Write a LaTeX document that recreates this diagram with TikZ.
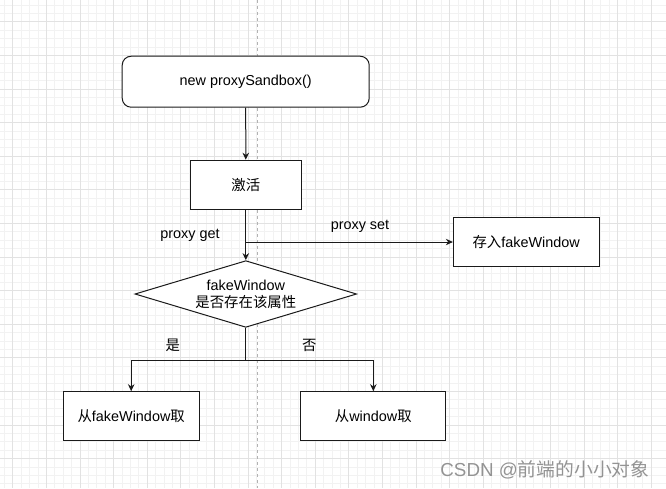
\documentclass[tikz,border=0pt]{standalone}
\usepackage{fontspec}
\setmainfont{Liberation Sans}
\newfontfamily\cjk{Noto Sans CJK SC}
\usepackage{tikz}
\usetikzlibrary{arrows.meta,positioning,calc,shapes.geometric}
\definecolor{gridminor}{HTML}{F2F2F2}
\definecolor{gridmajor}{HTML}{E2E2E2}
\definecolor{edgegray}{HTML}{1A1A1A}
\tikzset{
  block/.style    = {draw=edgegray, line width=1pt, rectangle, align=center,
                     minimum height=49pt, fill=white},
  rblock/.style   = {block, rounded corners=9pt},
  decision/.style = {draw=edgegray, line width=1pt, diamond, align=center, fill=white,
                     shape aspect=3.3, inner sep=0pt,
                     minimum width=221.7pt, minimum height=66.7pt},
  sig/.style      = {-{Stealth[length=7pt,width=6.5pt]}, line width=1pt, draw=edgegray},
  wire/.style     = {line width=1pt, draw=edgegray},
  lbl/.style      = {inner sep=0pt},
}
\begin{document}
\begin{tikzpicture}[x=1pt,y=-1pt,font=\fontsize{14.4}{16.8}\selectfont]
\useasboundingbox (0,0) rectangle (666,488);
% grid background
\foreach \i in {0,...,80} \draw[gridminor,line width=0.8pt] (12.7+8.4*\i-33.6,0) -- ++(0,488);
\foreach \i in {0,...,60} \draw[gridminor,line width=0.8pt] (0,21.7+8.4*\i-33.6) -- ++(666,0);
\foreach \i in {0,...,20} \draw[gridmajor,line width=0.8pt] (12.7+33.6*\i,0) -- ++(0,488);
\foreach \i in {0,...,15} \draw[gridmajor,line width=0.8pt] (0,21.7+33.6*\i) -- ++(666,0);
\draw[gray!60,dashed,line width=0.8pt] (257,0) -- (257,488);

% nodes
\node[rblock, minimum width=247pt, minimum height=51pt] (start) at (245.7,81.7) {new proxySandbox()};
\node[block, minimum width=111pt] (act) at (245.8,184.7) {{\cjk 激活}};
\node[block, minimum width=145.7pt] (store) at (526.2,242) {{\cjk 存入}fakeWindow};
\node[decision] (dec) at (245.8,294) {fakeWindow\\{\cjk 是否存在该属性}};
\node[block, minimum width=135.7pt] (left) at (131.2,416.2) {{\cjk 从}fakeWindow{\cjk 取}};
\node[block, minimum width=144.7pt] (right) at (373.3,416.2) {{\cjk 从}window{\cjk 取}};

% connectors
\coordinate (split) at (act.south |- store.west);
\coordinate (fork) at (245.8,360);
\draw[sig] (start) -- (act);
\draw[sig] (act) -- (dec);
\draw[sig] (split) -- (store);
\draw[wire] (dec.south) -- (fork);
\draw[sig] (fork) -| (left);
\draw[sig] (fork) -| (right);

% labels
\node[lbl] (getlbl) at (190,235) {proxy get};
\node[lbl] (setlbl) at (360,226) {proxy set};
\node[lbl] (yeslbl) at (172.7,345) {{\cjk 是}};
\node[lbl] (nolbl) at (309.3,345) {{\cjk 否}};
\node[lbl, text=gray!85, font=\fontsize{18.8}{22}\selectfont] (mark) at (545,470) {CSDN @{\cjk 前端的小小对象}};
\end{tikzpicture}
\end{document}
